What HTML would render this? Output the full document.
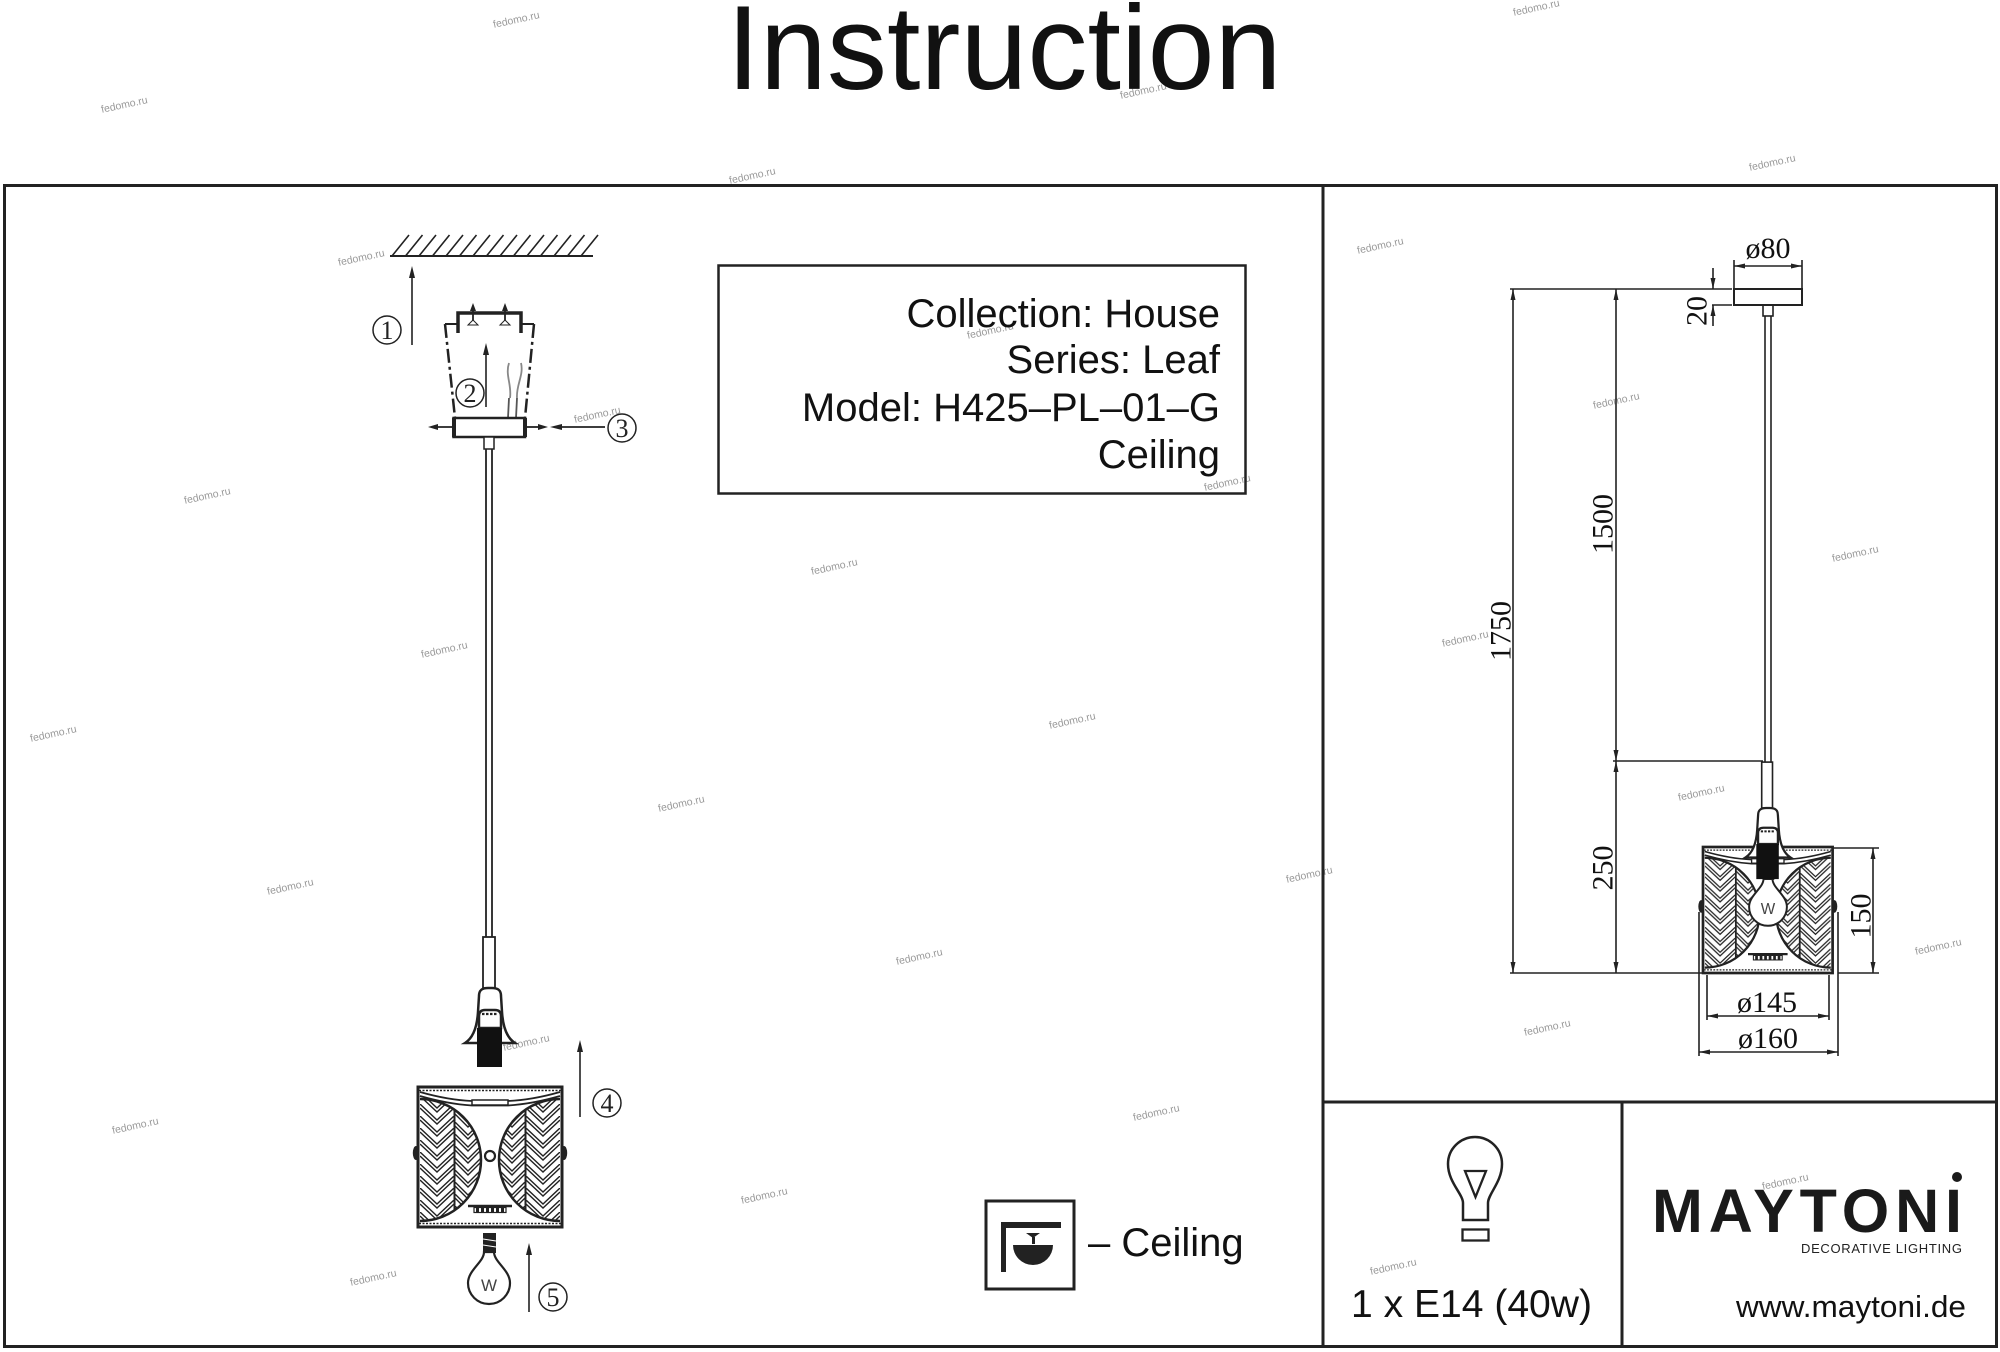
<!DOCTYPE html>
<html><head><meta charset="utf-8"><title>Instruction</title>
<style>html,body{margin:0;padding:0;background:#fff}svg{display:block}</style></head>
<body>
<svg xmlns="http://www.w3.org/2000/svg" width="2000" height="1352" viewBox="0 0 2000 1352">
<defs>
  <pattern id="p1" patternUnits="userSpaceOnUse" x="420" y="0" width="34" height="12">
    <path d="M0 -12 L17 4 L34 -12 M0 0 L17 16 L34 0 M0 -8 L17 8 L34 -8 M0 4 L17 20 L34 4" stroke="#222" stroke-width="1.4" fill="none"/>
  </pattern>
  <pattern id="p2" patternUnits="userSpaceOnUse" x="455" y="6" width="26" height="12">
    <path d="M0 -12 L13 1 L26 -12 M0 0 L13 13 L26 0 M0 -8 L13 5 L26 -8 M0 4 L13 17 L26 4" stroke="#222" stroke-width="1.4" fill="none"/>
  </pattern>
  <clipPath id="lc"><path d="M420 1099 A61 61 0 0 1 420 1221 Z"/></clipPath>
  <g id="leaf">
    <g clip-path="url(#lc)">
      <rect x="420" y="1095" width="34" height="130" fill="url(#p1)"/>
      <rect x="455" y="1095" width="27" height="130" fill="url(#p2)"/>
      <line x1="454.5" y1="1095" x2="454.5" y2="1225" stroke="#222" stroke-width="2"/>
    </g>
    <path d="M420 1099 A61 61 0 0 1 420 1221" fill="none" stroke="#222" stroke-width="2.5"/>
  </g>
  <g id="shade">
    <rect x="418" y="1087" width="144" height="140" fill="#fff" stroke="#222" stroke-width="3"/>
    <use href="#leaf"/>
    <use href="#leaf" transform="translate(980 0) scale(-1 1)"/>
    <line x1="419" y1="1090.5" x2="561" y2="1090.5" stroke="#222" stroke-width="1.4" stroke-dasharray="2 1.5"/>
    <path d="M420 1092 Q448 1100 472 1101 L508 1101 Q532 1100 560 1092" fill="none" stroke="#222" stroke-width="1.8"/>
    <path d="M420 1096 Q448 1104 472 1105.5 L508 1105.5 Q532 1104 560 1096" fill="none" stroke="#222" stroke-width="1.8"/>
    <rect x="472" y="1100" width="36" height="5" fill="#fff" stroke="#222" stroke-width="1.5"/>
    <circle cx="490" cy="1156" r="5" fill="#fff" stroke="#222" stroke-width="2.2"/>
    <line x1="468" y1="1206" x2="512" y2="1206" stroke="#222" stroke-width="2.5"/>
    <rect x="474" y="1207.5" width="32" height="5" fill="#fff" stroke="#222" stroke-width="1.2"/>
    <line x1="476" y1="1210" x2="504" y2="1210" stroke="#222" stroke-width="4" stroke-dasharray="3 2"/>
    <line x1="419" y1="1223.5" x2="561" y2="1223.5" stroke="#222" stroke-width="1.4" stroke-dasharray="2 1.5"/>
    <ellipse cx="416" cy="1153" rx="3.2" ry="7" fill="#222"/>
    <ellipse cx="564" cy="1153" rx="3.2" ry="7" fill="#222"/>
  </g>
  <g id="holder">
    <rect x="483" y="937" width="12" height="51" fill="#fff" stroke="#222" stroke-width="1.8"/>
    <path d="M465 1043 C473 1038 477 1028 478 1012 L479 996 C479 990 482 988 488 988 L492 988 C498 988 501 990 501 996 L502 1012 C503 1028 507 1038 515 1043 Z" fill="#fff" stroke="#222" stroke-width="2.5"/>
    <path d="M479 1028 L479 1016 Q479 1010 485 1010 L495 1010 Q501 1010 501 1016 L501 1028 Z" fill="#fff" stroke="#222" stroke-width="2.5"/>
    <line x1="482" y1="1014" x2="498" y2="1014" stroke="#222" stroke-width="2.2" stroke-dasharray="2.5 1.5"/>
    <rect x="477" y="1028" width="25" height="39" fill="#111"/>
  </g>
  <g id="bulb">
    <rect x="483" y="1233" width="13" height="20" fill="#222"/>
    <line x1="483" y1="1239" x2="496" y2="1241" stroke="#fff" stroke-width="1"/>
    <line x1="483" y1="1245" x2="496" y2="1247" stroke="#fff" stroke-width="1"/>
    <path d="M484 1252 C484 1262 468 1270 468 1283 A21 21 0 0 0 510 1283 C510 1270 494 1262 494 1252 Z" fill="#fff" stroke="#222" stroke-width="2.2"/>
    <text x="489" y="1291" font-family="Liberation Sans, sans-serif" font-size="17" fill="#444" text-anchor="middle">W</text>
  </g>
</defs>

<rect width="2000" height="1352" fill="#fff"/>

<!-- watermarks -->
<g font-family="Liberation Sans, sans-serif" font-size="10.5" fill="#9a9a9a" text-anchor="middle">
  <text transform="translate(517 23) rotate(-12)">fedomo.ru</text>
  <text transform="translate(1537 11) rotate(-12)">fedomo.ru</text>
  <text transform="translate(125 108) rotate(-12)">fedomo.ru</text>
  <text transform="translate(1144 94) rotate(-12)">fedomo.ru</text>
  <text transform="translate(753 179) rotate(-12)">fedomo.ru</text>
  <text transform="translate(1773 166) rotate(-12)">fedomo.ru</text>
  <text transform="translate(1381 249) rotate(-12)">fedomo.ru</text>
  <text transform="translate(362 261) rotate(-12)">fedomo.ru</text>
  <text transform="translate(991 334) rotate(-12)">fedomo.ru</text>
  <text transform="translate(598 418) rotate(-12)">fedomo.ru</text>
  <text transform="translate(1617 404) rotate(-12)">fedomo.ru</text>
  <text transform="translate(1228 486) rotate(-12)">fedomo.ru</text>
  <text transform="translate(208 499) rotate(-12)">fedomo.ru</text>
  <text transform="translate(835 570) rotate(-12)">fedomo.ru</text>
  <text transform="translate(1856 557) rotate(-12)">fedomo.ru</text>
  <text transform="translate(1466 642) rotate(-12)">fedomo.ru</text>
  <text transform="translate(445 653) rotate(-12)">fedomo.ru</text>
  <text transform="translate(54 737) rotate(-12)">fedomo.ru</text>
  <text transform="translate(1073 724) rotate(-12)">fedomo.ru</text>
  <text transform="translate(1702 796) rotate(-12)">fedomo.ru</text>
  <text transform="translate(682 807) rotate(-12)">fedomo.ru</text>
  <text transform="translate(1310 878) rotate(-12)">fedomo.ru</text>
  <text transform="translate(291 890) rotate(-12)">fedomo.ru</text>
  <text transform="translate(920 960) rotate(-12)">fedomo.ru</text>
  <text transform="translate(1939 950) rotate(-12)">fedomo.ru</text>
  <text transform="translate(527 1046) rotate(-12)">fedomo.ru</text>
  <text transform="translate(1548 1031) rotate(-12)">fedomo.ru</text>
  <text transform="translate(136 1129) rotate(-12)">fedomo.ru</text>
  <text transform="translate(1157 1116) rotate(-12)">fedomo.ru</text>
  <text transform="translate(1786 1185) rotate(-12)">fedomo.ru</text>
  <text transform="translate(765 1199) rotate(-12)">fedomo.ru</text>
  <text transform="translate(1394 1270) rotate(-12)">fedomo.ru</text>
  <text transform="translate(374 1281) rotate(-12)">fedomo.ru</text>
</g>

<!-- title -->
<text x="1004" y="89" font-family="Liberation Sans, sans-serif" font-size="120" fill="#111" text-anchor="middle" textLength="555" lengthAdjust="spacingAndGlyphs">Instruction</text>

<!-- frame -->
<g stroke="#222" stroke-width="3" fill="none">
  <rect x="4.5" y="185.5" width="1992" height="1161"/>
  <line x1="1323" y1="185" x2="1323" y2="1347"/>
  <line x1="1323" y1="1102" x2="1997" y2="1102"/>
  <line x1="1622" y1="1102" x2="1622" y2="1347"/>
</g>

<!-- info box -->
<rect x="718.5" y="265.5" width="527" height="228" fill="none" stroke="#222" stroke-width="2.5"/>
<g font-family="Liberation Sans, sans-serif" font-size="40" fill="#111" text-anchor="end">
  <text x="1220" y="327">Collection: House</text>
  <text x="1220" y="373">Series: Leaf</text>
  <text x="1220" y="421">Model: H425–PL–01–G</text>
  <text x="1220" y="468">Ceiling</text>
</g>

<!-- ceiling hatch -->
<line x1="390" y1="256" x2="593" y2="256" stroke="#222" stroke-width="2"/>
<path d="M392 256 l17 -21 M405.5 256 l17 -21 M419 256 l17 -21 M432.5 256 l17 -21 M446 256 l17 -21 M459.5 256 l17 -21 M473 256 l17 -21 M486.5 256 l17 -21 M500 256 l17 -21 M513.5 256 l17 -21 M527 256 l17 -21 M540.5 256 l17 -21 M554 256 l17 -21 M567.5 256 l17 -21 M581 256 l17 -21" stroke="#222" stroke-width="1.6" fill="none"/>

<!-- arrows 1,2 -->
<g stroke="#222" stroke-width="1.6" fill="#222">
  <line x1="412" y1="345" x2="412" y2="272"/>
  <polygon points="412,266 409,278 415,278" stroke="none"/>
  <line x1="486" y1="407" x2="486" y2="349"/>
  <polygon points="486,343 483,355 489,355" stroke="none"/>
  <line x1="580" y1="1117" x2="580" y2="1046"/>
  <polygon points="580,1040 577,1052 583,1052" stroke="none"/>
  <line x1="529" y1="1312" x2="529" y2="1249"/>
  <polygon points="529,1243 526,1255 532,1255" stroke="none"/>
</g>

<!-- bracket -->
<g stroke="#222" fill="none">
  <polyline points="458,333 458,313 521,313 521,333" stroke-width="3.5"/>
  <line x1="473" y1="324" x2="473" y2="308" stroke-width="1.8"/>
  <line x1="505" y1="324" x2="505" y2="308" stroke-width="1.8"/>
  <polygon points="473,303 470,311 476,311" fill="#222" stroke="none"/>
  <polygon points="505,303 502,311 508,311" fill="#222" stroke="none"/>
  <polygon points="468,325 478,325 473,320" fill="#fff" stroke-width="1"/>
  <polygon points="500,325 510,325 505,320" fill="#fff" stroke-width="1"/>
  <line x1="445" y1="324" x2="458" y2="324" stroke-width="2"/>
  <line x1="521" y1="324" x2="534" y2="324" stroke-width="2"/>
  <line x1="445" y1="324" x2="455" y2="418" stroke-width="2.5" stroke-dasharray="14 4 3 4"/>
  <line x1="534" y1="324" x2="525" y2="418" stroke-width="2.5" stroke-dasharray="14 4 3 4"/>
  <path d="M509 363 C505 375 512 385 510 398" stroke="#888" stroke-width="1.8"/>
  <path d="M521 363 C524 375 516 385 517 398" stroke="#888" stroke-width="1.8"/>
  <path d="M509 398 L508 418 M517 398 L516 418" stroke="#555" stroke-width="1.8"/>
  <rect x="453.5" y="418" width="71.5" height="19" fill="#fff" stroke-width="2.5"/>
  <line x1="454" y1="418" x2="454" y2="437" stroke-width="4"/>
  <line x1="525" y1="418" x2="525" y2="437" stroke-width="4"/>
  <rect x="484" y="437" width="10" height="12" fill="#fff" stroke-width="1.5"/>
  <line x1="486" y1="449" x2="486" y2="937" stroke-width="1.8"/>
  <line x1="492" y1="449" x2="492" y2="937" stroke-width="1.8"/>
</g>
<!-- arrows 3 -->
<g stroke="#222" stroke-width="1.8" fill="#222">
  <line x1="453" y1="427" x2="436" y2="427"/>
  <polygon points="428,427 438,424 438,430" stroke="none"/>
  <line x1="525" y1="427" x2="540" y2="427"/>
  <polygon points="548,427 538,424 538,430" stroke="none"/>
  <line x1="605" y1="427" x2="560" y2="427"/>
  <polygon points="550,427 562,424 562,430" stroke="none"/>
</g>

<!-- circled numbers -->
<g fill="#fff" stroke="#222" stroke-width="1.5">
  <circle cx="387" cy="330" r="14"/>
  <circle cx="470" cy="393" r="14"/>
  <circle cx="622" cy="428" r="14"/>
  <circle cx="607" cy="1103" r="14"/>
  <circle cx="553" cy="1297" r="14"/>
</g>
<g font-family="Liberation Serif, serif" font-size="26" fill="#222" text-anchor="middle">
  <text x="387" y="339">1</text>
  <text x="470" y="402">2</text>
  <text x="622" y="437">3</text>
  <text x="607" y="1112">4</text>
  <text x="553" y="1306">5</text>
</g>

<!-- left lamp -->
<use href="#holder"/>
<use href="#shade"/>
<use href="#bulb"/>

<!-- ceiling icon -->
<rect x="986" y="1201" width="88" height="88" fill="none" stroke="#222" stroke-width="3"/>
<rect x="1001" y="1222" width="60" height="6" fill="#222"/>
<rect x="1001" y="1222" width="5" height="50" fill="#222"/>
<polygon points="1026,1233 1040,1233 1033,1238" fill="#222"/>
<rect x="1032" y="1237" width="3" height="7" fill="#222"/>
<path d="M1013 1245 L1053 1245 A20 20 0 0 1 1013 1245 Z" fill="#222"/>
<text x="1088" y="1256" font-family="Liberation Sans, sans-serif" font-size="40" fill="#111">– Ceiling</text>

<!-- right dimension drawing -->
<g stroke="#222" stroke-width="1.6" fill="none">
  <line x1="1510" y1="289" x2="1732" y2="289"/>
  <line x1="1712" y1="305" x2="1732" y2="305"/>
  <line x1="1734" y1="260" x2="1734" y2="289"/>
  <line x1="1802" y1="260" x2="1802" y2="289"/>
  <line x1="1734" y1="266" x2="1802" y2="266"/>
  <rect x="1734" y="289" width="68" height="16" stroke-width="2"/>
  <rect x="1763" y="305" width="10" height="11"/>
  <line x1="1765" y1="316" x2="1765" y2="762"/>
  <line x1="1771" y1="316" x2="1771" y2="762"/>
  <line x1="1713" y1="268" x2="1713" y2="289"/>
  <line x1="1713" y1="305" x2="1713" y2="326"/>
  <line x1="1513" y1="289" x2="1513" y2="973"/>
  <line x1="1616" y1="289" x2="1616" y2="973"/>
  <line x1="1613" y1="761" x2="1763" y2="761"/>
  <line x1="1510" y1="973" x2="1703" y2="973"/>
  <line x1="1833" y1="848" x2="1879" y2="848"/>
  <line x1="1838" y1="973" x2="1879" y2="973"/>
  <line x1="1873" y1="848" x2="1873" y2="973"/>
  <line x1="1707" y1="975" x2="1707" y2="1020"/>
  <line x1="1829" y1="975" x2="1829" y2="1020"/>
  <line x1="1707" y1="1016" x2="1829" y2="1016"/>
  <line x1="1699" y1="912" x2="1699" y2="1056"/>
  <line x1="1838" y1="912" x2="1838" y2="1056"/>
  <line x1="1699" y1="1052" x2="1838" y2="1052"/>
</g>
<g fill="#222">
  <!-- 80 -->
  <polygon points="1734,266 1745,263.5 1745,268.5"/>
  <polygon points="1802,266 1791,263.5 1791,268.5"/>
  <!-- 20 -->
  <polygon points="1713,289 1710.5,278 1715.5,278"/>
  <polygon points="1713,305 1710.5,316 1715.5,316"/>
  <!-- 1750 -->
  <polygon points="1513,289 1510.5,300 1515.5,300"/>
  <polygon points="1513,973 1510.5,962 1515.5,962"/>
  <!-- 1500 -->
  <polygon points="1616,289 1613.5,300 1618.5,300"/>
  <polygon points="1616,761 1613.5,750 1618.5,750"/>
  <!-- 250 -->
  <polygon points="1616,761 1613.5,772 1618.5,772"/>
  <polygon points="1616,973 1613.5,962 1618.5,962"/>
  <!-- 150 -->
  <polygon points="1873,848 1870.5,859 1875.5,859"/>
  <polygon points="1873,973 1870.5,962 1875.5,962"/>
  <!-- 145 -->
  <polygon points="1707,1016 1718,1013.5 1718,1018.5"/>
  <polygon points="1829,1016 1818,1013.5 1818,1018.5"/>
  <!-- 160 -->
  <polygon points="1699,1052 1710,1049.5 1710,1054.5"/>
  <polygon points="1838,1052 1827,1049.5 1827,1054.5"/>
</g>

<!-- right lamp -->
<use href="#shade" transform="translate(1326.8 -131.3) scale(0.9)"/>
<use href="#bulb" transform="translate(1327.9 -247.8) scale(0.9)"/>
<use href="#holder" transform="translate(1327 -81.2) scale(0.9)"/>

<!-- dimension labels -->
<g font-family="Liberation Serif, serif" font-size="30" fill="#111" text-anchor="middle">
  <text x="1768" y="258">ø80</text>
  <text x="1767" y="1012">ø145</text>
  <text x="1768" y="1048">ø160</text>
  <text transform="translate(1697 311) rotate(-90)" dominant-baseline="central">20</text>
  <text transform="translate(1501 631) rotate(-90)" dominant-baseline="central">1750</text>
  <text transform="translate(1603 524) rotate(-90)" dominant-baseline="central">1500</text>
  <text transform="translate(1603 868) rotate(-90)" dominant-baseline="central">250</text>
  <text transform="translate(1861 916) rotate(-90)" dominant-baseline="central">150</text>
</g>

<!-- bulb icon -->
<path d="M1463 1220 L1463 1203 C1463 1194 1448 1182 1448 1164 A27 27 0 0 1 1502 1164 C1502 1182 1488 1194 1488 1203 L1488 1220 Z" fill="none" stroke="#222" stroke-width="2.5"/>
<polygon points="1465,1171 1486,1171 1475.5,1197" fill="none" stroke="#222" stroke-width="2.3"/>
<rect x="1462.5" y="1229.5" width="26" height="11" fill="none" stroke="#222" stroke-width="2.3"/>
<text x="1351" y="1317" font-family="Liberation Sans, sans-serif" font-size="39" fill="#111" textLength="241" lengthAdjust="spacingAndGlyphs">1 x E14 (40w)</text>

<!-- logo -->
<text x="1652" y="1232" font-family="Liberation Sans, sans-serif" font-weight="bold" font-size="61" fill="#1a1a1a" textLength="310" lengthAdjust="spacing">MAYTONI</text>
<circle cx="1957" cy="1177" r="5" fill="#1a1a1a"/>
<text x="1801" y="1253" font-family="Liberation Sans, sans-serif" font-size="13" fill="#222" textLength="161" lengthAdjust="spacing">DECORATIVE LIGHTING</text>
<text x="1736" y="1317" font-family="Liberation Sans, sans-serif" font-size="31" fill="#111" textLength="230" lengthAdjust="spacingAndGlyphs">www.maytoni.de</text>
</svg>
</body></html>
